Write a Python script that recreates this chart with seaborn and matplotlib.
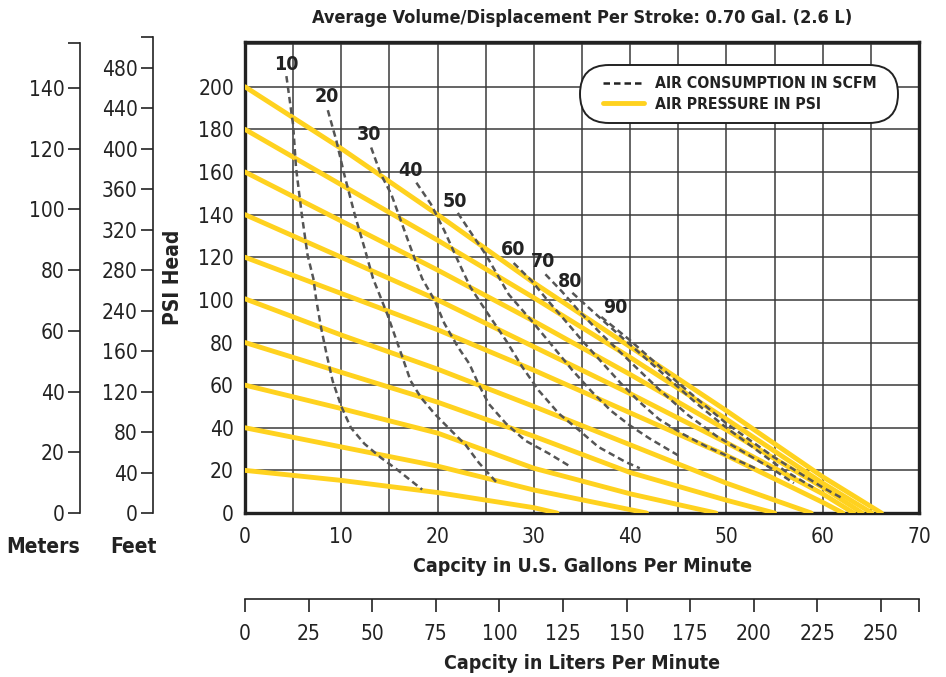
import seaborn as sns
import numpy as np
import pandas as pd
import matplotlib.pyplot as plt
from matplotlib.lines import Line2D
from matplotlib.patches import FancyBboxPatch
from matplotlib.transforms import IdentityTransform

# air pressure lines (PSI): gallons / psi head
psi_levels = [20, 40, 60, 80, 100, 120, 140, 160, 180, 200]
psi_gpm = {
    20: [0, 10, 20, 30, 32.4],
    40: [0, 10, 20, 30, 41.7],
    60: [0, 10, 20, 30, 40, 48.9],
    80: [0, 10, 20, 30, 40, 50, 55.0],
    100: [0, 10, 20, 30, 40, 50, 58.8],
    120: [0, 10, 20, 30, 40, 50, 60, 62.1],
    140: [0, 10, 20, 30, 40, 50, 60, 63.2],
    160: [0, 10, 20, 30, 40, 50, 60, 64.1],
    180: [0, 10, 20, 30, 40, 50, 60, 65.1],
    200: [0, 10, 20, 30, 40, 50, 60, 66.1],
}
psi_head = {
    20: [20, 15.3, 9.6, 2.5, 0],
    40: [40, 31, 22, 10.8, 0],
    60: [60, 49, 37.5, 21, 9, 0],
    80: [80, 66, 52, 36, 19, 6, 0],
    100: [100.5, 83.5, 67.5, 50, 32, 14, 0],
    120: [120, 103, 86, 67, 47, 27, 5, 0],
    140: [140, 120, 100, 78, 56, 33, 9, 0],
    160: [160, 137, 114, 90, 65, 39, 12, 0],
    180: [180, 154, 128, 101, 73, 44, 14, 0],
    200: [200, 171, 140, 108, 78, 48, 17, 0],
}

# air consumption curves (SCFM)
scfm_levels = [10, 20, 30, 40, 50, 60, 70, 80, 90]
scfm_gpm = {
    10: [4.3, 5.0, 5.3, 5.9, 6.5, 7.1, 7.4, 7.9, 8.45, 9.1, 10, 11, 12.4, 14.1, 15.9, 18.4],
    20: [8.6, 9.5, 10.3, 11.4, 12.4, 13.3, 14.1, 14.8, 15.5, 16.2, 17.2, 18.3, 19.7, 21.4, 22.9, 24.3, 26.2],
    30: [13.1, 14.1, 15.2, 16.2, 17.2, 18.4, 19.7, 20.7, 22.1, 23.3, 24.3, 25.3, 27.1, 29.1, 31.6, 33.6],
    40: [17.8, 19.3, 20.7, 22.1, 23.4, 25, 27.1, 28.8, 30.5, 32.6, 34.7, 36.7, 39.5, 41],
    50: [22.1, 23.6, 25, 26.4, 27.4, 29.8, 32, 34, 36, 38, 40, 42, 45],
    60: [27.9, 29.8, 31.2, 33.3, 35, 37, 39, 41, 43, 45.5, 48, 51, 53],
    70: [31.2, 32.9, 34.7, 37, 40, 43, 46, 49, 52, 55, 57],
    80: [34, 35.7, 38, 41, 44, 47, 50, 53, 56, 59],
    90: [37, 40, 45, 50, 55, 60, 62],
}
scfm_head = {
    10: [205, 182, 162, 140, 121, 110, 100, 87, 75, 62, 50, 40, 32.5, 26, 20, 11],
    20: [189, 174.5, 159, 140, 124.5, 110, 101, 93, 84, 75, 62, 54, 46.5, 38.7, 32, 23.5, 14],
    30: [171.5, 159, 149.5, 137, 124.5, 110, 99.7, 89, 78, 70, 60, 51.3, 42, 34, 27.8, 22.3],
    40: [155, 145, 132.5, 118.5, 106, 95, 81, 68.5, 57.5, 46.6, 38.8, 31, 24, 21],
    50: [140.8, 130.6, 121.3, 110.3, 102.5, 90, 78, 67, 57, 48, 41, 35, 27],
    60: [117.3, 108.8, 101, 90, 81, 71, 61, 52, 44, 37, 31, 25, 21],
    70: [112, 104, 94.7, 84, 71, 58, 46, 36, 28, 20, 14],
    80: [103.3, 96.3, 87, 75, 63, 51, 40, 30, 20, 12],
    90: [92, 81, 61, 42, 26, 12, 7],
}
scfm_label_x = [4.3, 8.5, 12.9, 17.2, 21.8, 27.8, 31.0, 33.8, 38.5]
scfm_label_y = [210.5, 195.5, 177.7, 160.8, 146.3, 123.6, 118.0, 108.8, 96.5]

gpm_ticks = [0, 10, 20, 30, 40, 50, 60, 70]
psi_ticks = [0, 20, 40, 60, 80, 100, 120, 140, 160, 180, 200]
meter_ticks = [0, 20, 40, 60, 80, 100, 120, 140]
feet_labels = ["0", "40", "80", "120", "160", "240", "280", "320", "360", "400", "440", "480"]
liter_ticks = [0, 25, 50, 75, 100, 125, 150, 175, 200, 225, 250]

YELLOW = "#FFD21F"
DASH = "#555555"
INK = "#222222"
DASH_STYLE = (0, (2.6, 1.6))

sns.set_theme(style="white")
plt.rcParams["font.family"] = ["DejaVu Sans"]
plt.rcParams["font.stretch"] = "condensed"

W, H = 946, 677
fig = plt.figure(figsize=(W / 100, H / 100), dpi=100)

def fx(px):
    return px / W

def fy(py):
    return 1 - py / H

ax = fig.add_axes([fx(245), fy(513), fx(919) - fx(245), fy(42) - fy(513)])

# pressure lines
for p in psi_levels:
    df = pd.DataFrame({"gpm": psi_gpm[p], "psi": psi_head[p]})
    sns.lineplot(data=df, x="gpm", y="psi", ax=ax, color=YELLOW, lw=3.5,
                 sort=False, estimator=None, zorder=3)

# consumption curves
for s in scfm_levels:
    df = pd.DataFrame({"gpm": scfm_gpm[s], "psi": scfm_head[s]})
    sns.lineplot(data=df, x="gpm", y="psi", ax=ax, color=DASH, lw=1.8,
                 linestyle=DASH_STYLE, sort=False, estimator=None, zorder=4)

for s, lx, ly in zip(scfm_levels, scfm_label_x, scfm_label_y):
    ax.text(lx, ly, str(s), fontsize=14, fontweight="bold", color=INK,
            ha="center", va="center", zorder=5)

ax.set_xlim(0, 70)
ax.set_ylim(0, 221)
ax.set_xticks(gpm_ticks)
ax.set_xticks(np.arange(5, 70, 10), minor=True)
ax.set_yticks(psi_ticks)
ax.set_yticks([220], minor=True)
ax.grid(True, which="both", color="#3a3a3a", lw=1.1)
ax.tick_params(axis="both", which="both", length=0, labelsize=15, colors=INK)
ax.tick_params(axis="x", pad=10)
ax.tick_params(axis="y", pad=8)
for sp in ax.spines.values():
    sp.set_color(INK)
    sp.set_linewidth(2.4)
ax.set_xlabel("Capcity in U.S. Gallons Per Minute", fontsize=14, fontweight="bold",
              color=INK, labelpad=7)
ax.set_ylabel("PSI Head", fontsize=15, fontweight="bold", color=INK)
ax.yaxis.set_label_coords(-0.092, 0.5)

# legend in a pill shaped box
pill = FancyBboxPatch((580, H - 123), 318, 58, boxstyle="round,pad=0,rounding_size=29",
                      transform=IdentityTransform(), facecolor="white", edgecolor=INK,
                      lw=1.4, zorder=6, clip_on=False)
ax.add_patch(pill)
handles = [Line2D([], [], color=INK, lw=1.8, linestyle=DASH_STYLE),
           Line2D([], [], color=YELLOW, lw=3.5)]
leg = ax.legend(handles, ["AIR CONSUMPTION IN SCFM", "AIR PRESSURE IN PSI"],
                loc="upper left", bbox_to_anchor=((603 - 245) / 674, (513 - 76) / 471),
                frameon=False, prop={"weight": "bold", "size": 11.3},
                handlelength=2.6, handletextpad=0.7, labelspacing=0.38,
                borderpad=0, borderaxespad=0)
leg.set_zorder(7)
for t in leg.get_texts():
    t.set_color(INK)

# meters axis
axm = fig.add_axes([fx(80), fy(513), 0.0001, fy(43) - fy(513)])
axm.set_ylim(0, 470 / 3.036)
axm.set_yticks(meter_ticks)
axm.set_yticks([470 / 3.036], minor=True)
# feet axis
axf = fig.add_axes([fx(153), fy(513), 0.0001, fy(37) - fy(513)])
axf.set_ylim(0, 476 / 40.45 * 40)
axf.set_yticks(np.arange(len(feet_labels)) * 40)
axf.set_yticklabels(feet_labels)
axf.set_yticks([476 / 40.45 * 40], minor=True)
for a in (axm, axf):
    a.patch.set_visible(False)
    a.set_xticks([])
    for k in ("top", "right", "bottom"):
        a.spines[k].set_visible(False)
    a.spines["left"].set_color(INK)
    a.spines["left"].set_linewidth(1.2)
    a.tick_params(axis="y", which="both", direction="out", length=9, width=1.2,
                  color=INK, labelsize=15, labelcolor=INK, pad=2, left=True)
    a.grid(False)

fig.text(fx(43), fy(547), "Meters", fontsize=15, fontweight="bold", color=INK,
         ha="center", va="center")
fig.text(fx(133), fy(547), "Feet", fontsize=15, fontweight="bold", color=INK,
         ha="center", va="center")

# liters axis
axl = fig.add_axes([fx(245), fy(599), fx(919) - fx(245), 0.0001])
axl.set_xlim(0, 70 * 3.785)
axl.set_xticks(liter_ticks)
axl.set_xticks([70 * 3.785], minor=True)
axl.set_yticks([])
axl.patch.set_visible(False)
for k in ("top", "right", "left"):
    axl.spines[k].set_visible(False)
axl.spines["bottom"].set_color(INK)
axl.spines["bottom"].set_linewidth(1.2)
axl.tick_params(axis="x", which="both", direction="out", length=9, width=1.2,
                color=INK, labelsize=15, labelcolor=INK, pad=9, bottom=True)
axl.grid(False)
axl.set_xlabel("Capcity in Liters Per Minute", fontsize=14, fontweight="bold",
               color=INK, labelpad=7)

fig.text(fx(582), fy(18), "Average Volume/Displacement Per Stroke: 0.70 Gal. (2.6 L)",
         fontsize=13, fontweight="bold", color=INK, ha="center", va="center")

fig.savefig("out.png", dpi=100)
